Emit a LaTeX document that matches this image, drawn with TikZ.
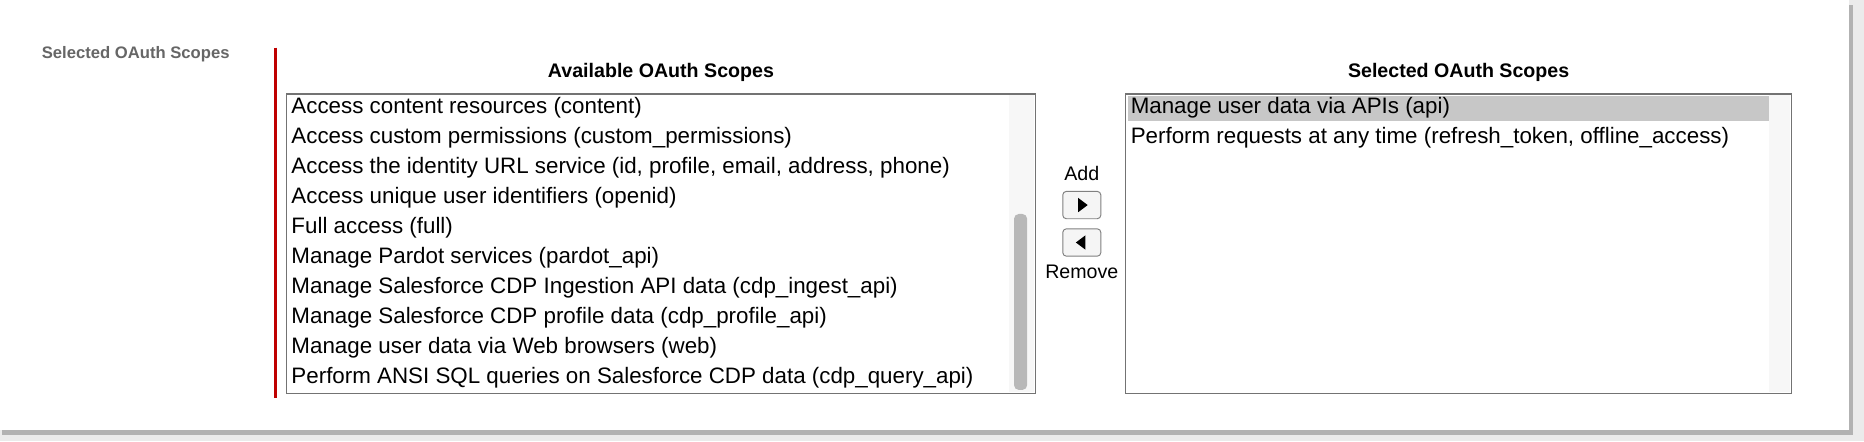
\documentclass[tikz,border=0pt]{standalone}
\usepackage{fontspec}
\setmainfont{Liberation Sans}
\begin{document}
\begin{tikzpicture}[x=1pt,y=-1pt,
  item/.style={anchor=west,inner sep=0pt,font=\fontsize{18.8}{18.8}\selectfont},
  ttl/.style={font=\bfseries\fontsize{16.5}{16.5}\selectfont,inner sep=0pt},
  lst/.style={draw=black!55,line width=1pt,fill=white},
  btn/.style={draw=black!50,rounded corners=3pt,fill=black!4,line width=0.8pt,minimum width=32,minimum height=23,inner sep=0pt}]
\useasboundingbox (0,0) rectangle (1568,371);
\fill[black!8] (0,0) rectangle (1568,371);
\fill[black!30] (2,4) rectangle (1559,366);
\fill[white] (0,0) rectangle (1555,362);
\node[anchor=west,text=black!60,font=\bfseries\fontsize{14}{14}\selectfont,inner sep=0pt] (lab) at (35,46) {Selected OAuth Scopes};
\draw[red!75!black,line width=2.5pt] (232,40) coordinate (r1) -- (232,335) coordinate (r2);
\node[ttl] (t1) at (556,61) {Available OAuth Scopes};
\node[ttl] (t2) at (1227,61) {Selected OAuth Scopes};
\draw[lst] (241,79) rectangle (871,331);
\fill[black!3] (849,80) rectangle (870,330);
\fill[black!28,rounded corners=4pt] (853,180) rectangle (864,328);
\foreach \t [count=\i] in {Access content resources (content),Access custom permissions (custom\_permissions),{Access the identity URL service (id, profile, email, address, phone)},Access unique user identifiers (openid),Full access (full),Manage Pardot services (pardot\_api),Manage Salesforce CDP Ingestion API data (cdp\_ingest\_api),Manage Salesforce CDP profile data (cdp\_profile\_api),Manage user data via Web browsers (web),Perform ANSI SQL queries on Salesforce CDP data (cdp\_query\_api)}
  \node[item] (a\i) at (245,{91+25.2*(\i-1)}) {\t};
\draw[lst] (947,79) rectangle (1507,331);
\fill[black!3] (1488,80) rectangle (1506,330);
\fill[black!22] (949,81) rectangle (1488,102);
\node[item] (s1) at (951,91) {Manage user data via APIs (api)};
\node[item] (s2) at (951,116.2) {Perform requests at any time (refresh\_token, offline\_access)};
\node[font=\fontsize{16.5}{16.5}\selectfont,inner sep=0pt] (add) at (910,146) {Add};
\node[btn] (b1) at (910,172.5) {};
\fill (b1.center) ++(-3,-6) -- ++(8,6) -- ++(-8,6) -- cycle;
\node[btn] (b2) at (910,204) {};
\fill (b2.center) ++(3,-6) -- ++(-8,6) -- ++(8,6) -- cycle;
\node[font=\fontsize{16.5}{16.5}\selectfont,inner sep=0pt] (rem) at (910,229) {Remove};
\end{tikzpicture}
\end{document}
